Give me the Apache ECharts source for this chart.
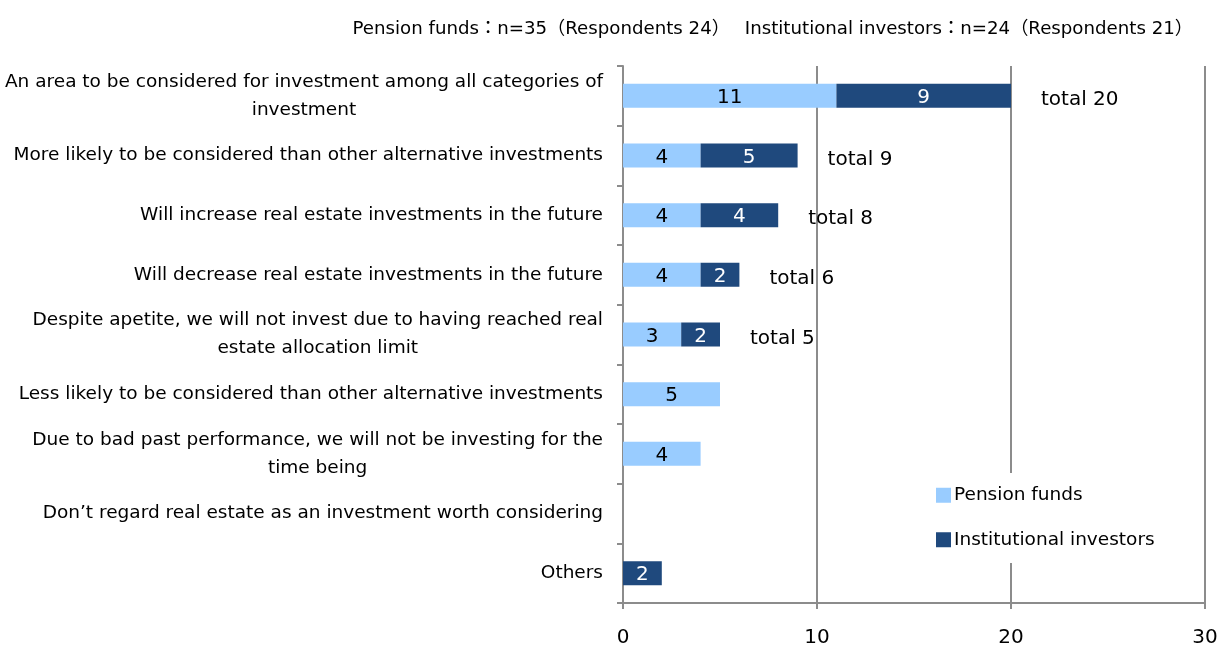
<!DOCTYPE html>
<html>
<head>
<meta charset="utf-8">
<script src="https://cdn.jsdelivr.net/npm/echarts@6/dist/echarts.min.js"></script>
<style>
  html, body { margin: 0; padding: 0; background: #fff; }
  #chart { width: 1220px; height: 648px; }
</style>
</head>
<body>
<div id="chart"></div>
<script>
// categories (top to bottom)
const categories = [
  'An area to be considered for investment among all categories of\ninvestment',
  'More likely to be considered than other alternative investments',
  'Will increase real estate investments in the future',
  'Will decrease real estate investments in the future',
  'Despite apetite, we will not invest due to having reached real\nestate allocation limit',
  'Less likely to be considered than other alternative investments',
  'Due to bad past performance, we will not be investing for the\ntime being',
  'Don\u2019t regard real estate as an investment worth considering',
  'Others'
];
const pensionFunds = [11, 4, 4, 4, 3, 5, 4, null, null];
const institutional = [9, 5, 4, 2, 2, null, null, null, 2];
const totals = [20, 9, 8, 6, 5, null, null, null, null];
const xTicks = [0, 10, 20, 30];

const subtitle = 'Pension funds\uff1an=35\uff08Respondents 24\uff09\u3000 Institutional investors\uff1an=24\uff08Respondents 21\uff09';

const FONT = '"DejaVu Sans", "Noto Sans CJK JP", sans-serif';
const chart = echarts.init(document.getElementById('chart'), null, { renderer: 'canvas' });

chart.setOption({
  backgroundColor: '#ffffff',
  animation: false,
  title: {
    text: subtitle,
    right: 22,
    top: 15,
    textStyle: { fontFamily: FONT, fontSize: 18.2, fontWeight: 'normal', color: '#000' }
  },
  legend: {
    data: ['Pension funds', 'Institutional investors'],
    orient: 'vertical',
    left: 930,
    top: 473,
    padding: [13, 10, 14, 6],
    backgroundColor: '#ffffff',
    itemWidth: 15,
    itemHeight: 15,
    itemGap: 26,
    icon: 'rect',
    textStyle: { fontFamily: FONT, fontSize: 18.5, lineHeight: 15, color: '#000', padding: [0, 0, 0, -2] },
    z: 10
  },
  grid: { left: 623, right: 15, top: 66, bottom: 45, containLabel: false, outerBoundsMode: 'none' },
  xAxis: {
    type: 'value',
    min: xTicks[0],
    max: xTicks[xTicks.length - 1],
    interval: 10,
    axisLine: { show: true, lineStyle: { color: '#8c8c8c', width: 2 } },
    axisTick: { show: true, length: 6, lineStyle: { color: '#8c8c8c', width: 2 } },
    axisLabel: { fontFamily: FONT, fontSize: 20, color: '#000', margin: 25 },
    splitLine: { show: true, lineStyle: { color: '#8c8c8c', width: 2 } }
  },
  yAxis: {
    type: 'category',
    inverse: true,
    data: categories,
    axisLine: { show: true, lineStyle: { color: '#8c8c8c', width: 2 } },
    axisTick: { show: true, length: 6, lineStyle: { color: '#8c8c8c', width: 2 } },
    axisLabel: {
      fontFamily: FONT,
      fontSize: 18.5,
      color: '#000',
      margin: 20,
      lineHeight: 28,
      formatter: (v) => v.split('\n').map((l) => '{c|' + l + '}').join('\n'),
      rich: { c: { align: 'center', fontFamily: FONT, fontSize: 18.5, lineHeight: 28, color: '#000' } }
    }
  },
  series: [
    {
      name: 'Pension funds',
      type: 'bar',
      stack: 'a',
      barWidth: 24,
      data: pensionFunds,
      itemStyle: { color: '#99ccff' },
      label: { show: true, position: 'inside', offset: [0, 2], fontFamily: FONT, fontSize: 20, color: '#000' }
    },
    {
      name: 'Institutional investors',
      type: 'bar',
      stack: 'a',
      barWidth: 24,
      data: institutional,
      itemStyle: { color: '#1f497d' },
      label: { show: true, position: 'inside', offset: [0, 2], fontFamily: FONT, fontSize: 20, color: '#fff' }
    },
    {
      name: 'total',
      type: 'bar',
      barWidth: 24,
      barGap: '-100%',
      data: totals,
      silent: true,
      z: 1,
      itemStyle: { color: 'rgba(0,0,0,0)' },
      label: {
        show: true,
        position: 'right',
        distance: 30,
        offset: [0, 4],
        fontFamily: FONT,
        fontSize: 20,
        color: '#000',
        formatter: (p) => 'total ' + p.value
      }
    }
  ]
});
</script>
</body>
</html>
